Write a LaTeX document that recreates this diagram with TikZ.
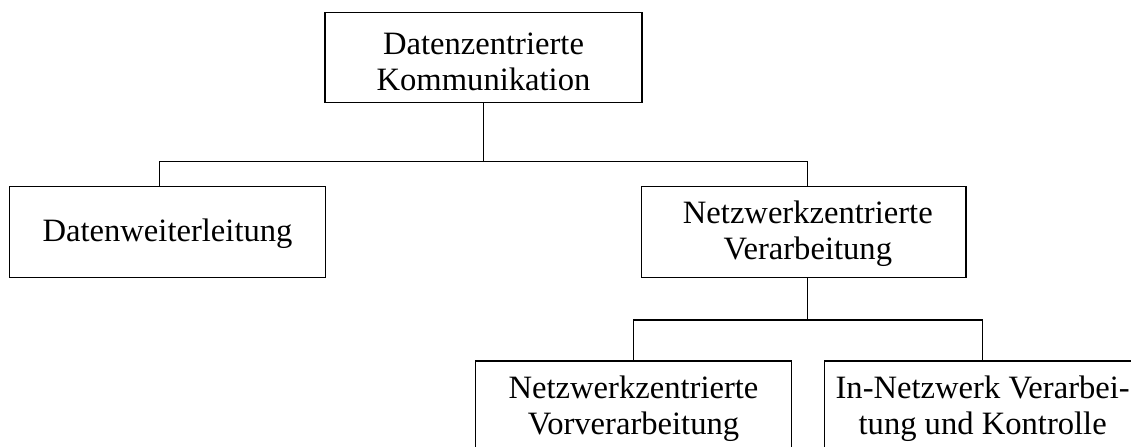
\documentclass[tikz,border=0pt]{standalone}
\IfFileExists{t1ppl.fd}{%
  \IfFileExists{pplr8t.tfm}{%
    \usepackage[T1]{fontenc}\renewcommand\rmdefault{ppl}}{%
    \usepackage{fontspec}\setmainfont{Liberation Serif}}}{%
  \usepackage{fontspec}\setmainfont{Liberation Serif}}
\newdimen\px
\px=0.3834pt
% invisible rules that fix the line height and depth inside the boxes
\newcommand\bxs{\rule[-1.56pt]{0pt}{11.56pt}}
\newcommand\bxt{\rule{0pt}{12.04pt}}
\tikzset{
  box/.style={draw, rectangle, inner sep=0pt, align=center,
    line width=0.45pt, font=\fontsize{12.5}{13.8}\selectfont},
  link/.style={line width=0.45pt}
}
\begin{document}
\begin{tikzpicture}[x=0.3834pt, y=-0.3834pt]
\useasboundingbox (0,0) rectangle (1131,447);
\clip (0,0) rectangle (1131,447);

% boxes of the tree
\node[box, minimum width=317\px, minimum height=90\px] (top) at (483.5,57.3)
  {\bxt Datenzentrierte\\Kommunikation};
\node[box, minimum width=316.4\px, minimum height=90.6\px] (fwd) at (167.5,232)
  {\bxs Datenweiterleitung};
\node[box, minimum width=324.3\px, minimum height=91\px] (netz) at (803.8,232.2)
  {\hspace*{8\px}\bxs Netzwerkzentrierte\\\hspace*{8\px}\bxs Verarbeitung};
\node[box, minimum width=316.4\px, minimum height=91\px] (vor) at (633.5,406.5)
  {\bxs Netzwerkzentrierte\\\bxs Vorverarbeitung};
\node[box, minimum width=316.4\px, minimum height=91\px] (inw) at (982.7,406.5)
  {\bxs In-Netzwerk Verarbei-\\\bxs tung und Kontrolle};

% junction points of the orthogonal connectors
\coordinate (busA)  at (483.5,161.7);
\coordinate (busAl) at (159.3,161.7);
\coordinate (busAr) at (807.8,161.7);
\coordinate (busB)  at (807.8,320);
\coordinate (busBl) at (633.5,320);
\coordinate (busBr) at (982.7,320);

\draw[link] (top.south) -- (busA);
\draw[link] (busAl |- fwd.north) -- (busAl) -- (busAr) -- (busAr |- netz.north);
\draw[link] (busB |- netz.south) -- (busB);
\draw[link] (busBl |- vor.north) -- (busBl) -- (busBr) -- (busBr |- inw.north);
\end{tikzpicture}
\end{document}
